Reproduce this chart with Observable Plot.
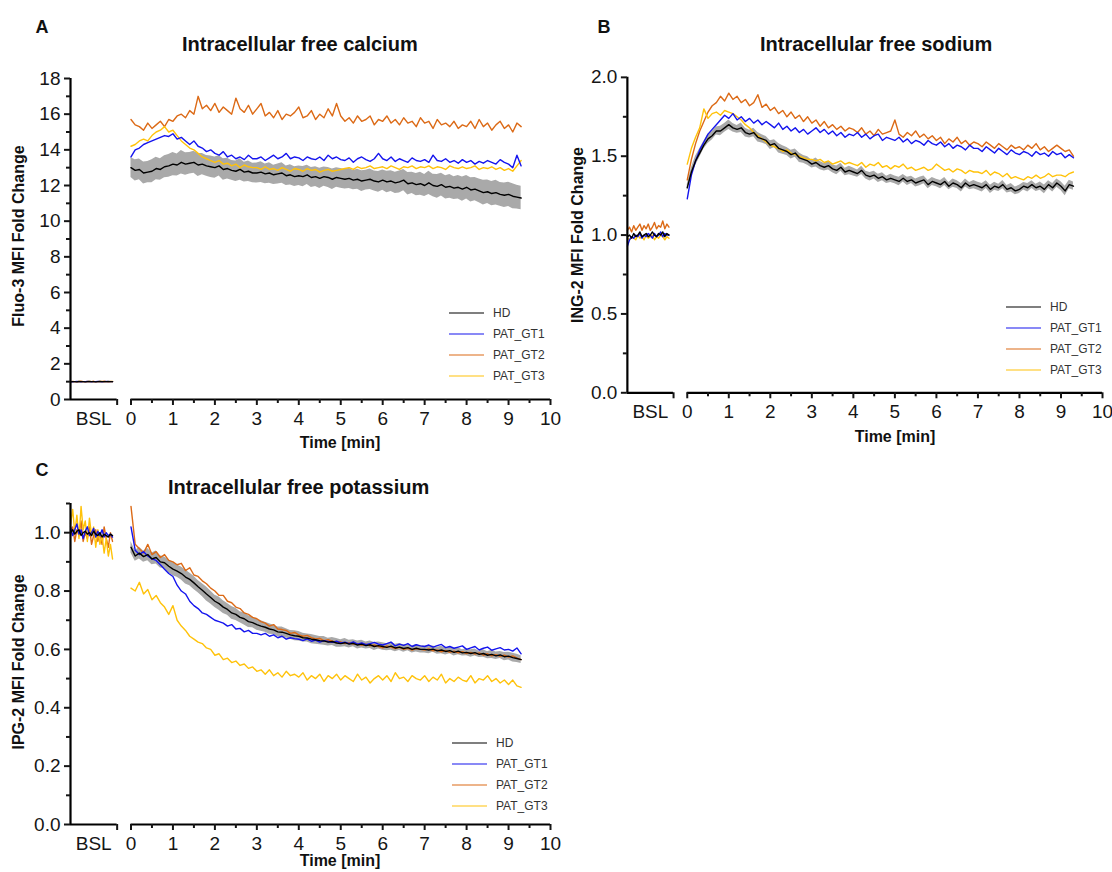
<!DOCTYPE html>
<html><head><meta charset="utf-8">
<script src="https://cdn.jsdelivr.net/npm/d3@7"></script>
<script src="https://cdn.jsdelivr.net/npm/@observablehq/plot@0.6"></script>
<style>
body{margin:0;background:#fff;font-family:"Liberation Sans",Arial,sans-serif;color:#111}
#root{position:relative;width:1112px;height:872px;overflow:hidden}
.abs{position:absolute;white-space:nowrap;line-height:1}
.letter{font-weight:bold;font-size:18px;transform:translate(-50%,-50%)}
.title{font-weight:bold;font-size:20px;transform:translateY(-50%)}
.ylab{font-weight:bold;font-size:16px;transform:translate(-50%,-50%) rotate(-90deg)}
.xlab{font-weight:bold;font-size:16px;transform:translate(-50%,-50%)}
.lg{font-size:12px;color:#333;transform:translateY(-50%)}
.lgline{height:0;border-top:1.8px solid #000;width:35px;transform:translateY(-50%)}
</style>
</head><body><div id="root"></div>
<script>
// ---------- series ----------
const SERIES = ["HD", "PAT_GT1", "PAT_GT2", "PAT_GT3"];
const COLORS = {HD: "#000000", PAT_GT1: "#1414ee", PAT_GT2: "#dc6a16", PAT_GT3: "#ffc20a"};
const TIME_STEP = 0.1;          // min between samples
const BSL_START = -1.44, BSL_STEP = 0.05;
const X_TICKS = [0,1,2,3,4,5,6,7,8,9,10];
const X_MINOR = [0.5,1.5,2.5,3.5,4.5,5.5,6.5,7.5,8.5,9.5];

// ---------- A: calcium ----------
const caHD = [13.0,12.85,12.9,12.7,12.75,12.8,12.95,12.9,13.05,13.1,
13.2,13.15,13.3,13.2,13.25,13.3,13.15,13.2,13.1,13.05,
13.0,13.1,12.9,12.95,12.85,12.8,12.9,12.75,12.8,12.7,
12.7,12.75,12.65,12.7,12.6,12.65,12.7,12.55,12.6,12.5,
12.55,12.5,12.6,12.45,12.5,12.4,12.5,12.45,12.35,12.45,
12.4,12.35,12.4,12.3,12.35,12.25,12.3,12.35,12.25,12.2,
12.3,12.2,12.25,12.15,12.2,12.3,12.1,12.15,12.05,12.1,
12.0,12.15,12.0,11.95,12.05,11.9,11.95,11.85,11.9,11.8,
11.9,11.75,11.8,11.7,11.6,11.65,11.55,11.6,11.5,11.45,
11.5,11.4,11.35,11.3];
const caGT1 = [13.6,14.0,14.1,14.3,14.4,14.5,14.6,14.7,14.8,14.75,
14.9,14.6,14.7,14.5,14.3,14.5,14.2,14.1,13.9,14.0,
13.8,13.7,13.9,13.6,13.7,13.5,13.6,13.45,13.7,13.5,
13.5,13.6,13.4,13.55,13.7,13.5,13.6,13.8,13.5,13.6,
13.55,13.4,13.6,13.5,13.45,13.6,13.4,13.7,13.5,13.6,
13.45,13.4,13.55,13.3,13.5,13.6,13.45,13.35,13.5,13.8,
13.5,13.4,13.6,13.35,13.5,13.4,13.3,13.55,13.4,13.35,
13.45,13.3,13.7,13.4,13.35,13.5,13.3,13.4,13.25,13.45,
13.3,13.4,13.2,13.35,13.25,13.4,13.3,13.2,13.45,13.3,
13.2,13.0,13.7,13.1];
const caGT2 = [15.7,15.4,15.3,15.1,15.5,15.2,15.4,15.6,15.3,15.7,
15.6,15.9,16.0,15.8,16.2,16.0,17.0,16.3,16.5,16.2,
16.6,16.1,16.4,16.2,16.0,16.9,16.3,16.1,16.5,16.0,
16.3,16.6,15.9,16.1,15.8,16.2,15.7,16.0,15.9,16.1,
16.4,15.8,15.9,16.2,15.7,16.0,15.8,16.3,15.9,16.6,
15.9,15.6,15.8,15.5,15.9,15.6,15.7,15.9,15.4,15.7,
15.6,15.9,15.5,15.7,15.4,15.8,15.5,15.6,15.3,15.8,
15.5,15.6,15.2,15.7,15.4,15.5,15.3,15.6,15.2,15.4,
15.3,15.6,15.2,15.7,15.3,15.5,15.1,15.4,15.6,15.2,
15.4,15.0,15.5,15.3];
const caGT3 = [14.2,14.3,14.5,14.6,14.5,14.8,15.0,15.1,15.3,15.0,
15.1,14.8,14.5,14.3,14.1,14.0,13.8,13.6,13.5,13.4,
13.3,13.4,13.2,13.25,13.1,13.2,13.0,13.15,13.05,13.0,
13.0,12.9,13.05,12.9,12.95,12.85,13.0,12.9,12.8,12.95,
12.9,12.8,12.95,12.85,12.9,12.75,12.85,12.9,12.8,12.85,
12.9,12.95,13.0,12.9,13.05,12.95,13.0,13.1,12.95,13.0,
13.05,12.95,13.1,13.0,12.9,13.05,13.0,13.1,12.95,13.05,
13.0,13.1,12.95,13.05,13.0,12.9,13.1,13.0,12.95,13.05,
12.95,13.0,13.1,12.9,13.0,12.95,13.05,12.9,13.0,12.85,
12.95,12.8,13.1,13.4];
const caSEM = [0.55,0.6,0.58,0.62,0.6,0.65,0.63,0.6,0.62,0.64,
0.65,0.62,0.66,0.63,0.6,0.62,0.64,0.6,0.58,0.6,
0.6,0.57,0.6,0.58,0.55,0.58,0.6,0.56,0.58,0.55,
0.56,0.58,0.55,0.57,0.54,0.56,0.58,0.55,0.57,0.55,
0.55,0.57,0.54,0.56,0.55,0.57,0.54,0.56,0.58,0.55,
0.56,0.55,0.57,0.54,0.56,0.58,0.55,0.57,0.56,0.58,
0.57,0.6,0.58,0.6,0.62,0.6,0.63,0.6,0.62,0.64,
0.62,0.65,0.63,0.66,0.64,0.65,0.67,0.64,0.66,0.68,
0.66,0.68,0.65,0.67,0.69,0.66,0.68,0.7,0.67,0.69,
0.68,0.7,0.67,0.66];
const caBslHD  = [0.99,1.0,1.0,0.99,1.01,1.0,1.0,0.99,1.0,1.01,1.0,1.0,0.99,1.0,1.01,1.0,1.0,1.0,1.01,1.0,1.0];
const caBslGT1 = [1.0,0.99,1.0,1.01,1.0,0.99,1.0,1.0,1.01,1.0,0.99,1.0,1.0,1.01,1.0,0.99,1.0,1.01,1.0,1.0,1.0];
const caBslGT2 = [1.0,1.01,1.0,0.99,1.0,1.02,1.0,0.99,1.01,1.0,1.0,1.02,0.99,1.0,1.01,1.0,1.02,1.0,0.99,1.01,1.0];
const caBslGT3 = [1.0,1.0,0.99,1.0,1.01,1.0,0.99,1.0,1.0,1.01,1.0,0.99,1.0,1.0,1.0,1.01,0.99,1.0,1.0,1.0,1.01];

// ---------- B: sodium ----------
const naHD = [1.30,1.40,1.47,1.52,1.57,1.61,1.63,1.66,1.66,1.68,
1.70,1.68,1.67,1.68,1.65,1.64,1.65,1.62,1.61,1.60,
1.57,1.58,1.55,1.54,1.53,1.51,1.52,1.49,1.48,1.47,
1.45,1.46,1.44,1.43,1.44,1.42,1.41,1.43,1.40,1.41,
1.40,1.39,1.41,1.38,1.37,1.38,1.36,1.37,1.35,1.36,
1.35,1.34,1.36,1.34,1.35,1.33,1.34,1.35,1.32,1.34,
1.33,1.32,1.34,1.31,1.33,1.32,1.30,1.33,1.31,1.32,
1.31,1.30,1.32,1.29,1.31,1.30,1.32,1.29,1.30,1.28,
1.29,1.31,1.30,1.32,1.30,1.31,1.29,1.32,1.30,1.33,
1.31,1.28,1.32,1.31];
const naGT1 = [1.23,1.38,1.47,1.54,1.59,1.64,1.67,1.70,1.73,1.76,
1.74,1.77,1.73,1.75,1.72,1.74,1.71,1.73,1.70,1.72,
1.70,1.68,1.71,1.67,1.69,1.66,1.68,1.65,1.67,1.64,
1.66,1.68,1.65,1.67,1.64,1.66,1.63,1.65,1.62,1.64,
1.63,1.65,1.62,1.64,1.61,1.63,1.64,1.60,1.62,1.61,
1.60,1.62,1.59,1.61,1.58,1.60,1.59,1.57,1.60,1.58,
1.57,1.59,1.56,1.58,1.55,1.57,1.56,1.54,1.57,1.55,
1.55,1.53,1.56,1.54,1.52,1.55,1.53,1.51,1.54,1.52,
1.51,1.53,1.52,1.50,1.53,1.51,1.52,1.50,1.53,1.51,
1.52,1.49,1.51,1.49];
const naGT2 = [1.35,1.48,1.58,1.66,1.72,1.78,1.82,1.84,1.88,1.85,
1.90,1.86,1.88,1.84,1.86,1.82,1.84,1.89,1.81,1.83,
1.79,1.81,1.77,1.79,1.75,1.78,1.74,1.76,1.72,1.75,
1.71,1.73,1.69,1.72,1.68,1.70,1.67,1.69,1.66,1.68,
1.67,1.65,1.68,1.64,1.66,1.63,1.67,1.64,1.65,1.66,
1.73,1.64,1.62,1.65,1.63,1.66,1.62,1.64,1.61,1.63,
1.60,1.62,1.58,1.61,1.59,1.62,1.58,1.60,1.57,1.59,
1.58,1.56,1.59,1.57,1.55,1.58,1.56,1.54,1.57,1.55,
1.56,1.54,1.57,1.55,1.58,1.54,1.56,1.53,1.55,1.57,
1.55,1.53,1.54,1.50];
const naGT3 = [1.45,1.55,1.62,1.68,1.80,1.74,1.77,1.78,1.76,1.79,
1.78,1.77,1.75,1.73,1.70,1.68,1.65,1.63,1.61,1.59,
1.57,1.56,1.55,1.53,1.54,1.52,1.51,1.50,1.49,1.48,
1.48,1.47,1.48,1.46,1.47,1.45,1.46,1.47,1.45,1.46,
1.45,1.44,1.46,1.43,1.45,1.44,1.46,1.43,1.44,1.42,
1.44,1.43,1.45,1.42,1.43,1.41,1.42,1.43,1.41,1.42,
1.45,1.43,1.41,1.42,1.40,1.42,1.41,1.39,1.41,1.40,
1.40,1.39,1.41,1.38,1.40,1.39,1.37,1.39,1.36,1.37,
1.36,1.35,1.37,1.36,1.38,1.36,1.37,1.39,1.37,1.38,
1.38,1.37,1.39,1.40];
const naSEM = [0.02,0.025,0.03,0.028,0.025,0.03,0.027,0.025,0.03,0.028,
0.03,0.027,0.025,0.03,0.028,0.025,0.027,0.03,0.026,0.025,
0.028,0.025,0.03,0.027,0.025,0.028,0.026,0.03,0.025,0.027,
0.025,0.028,0.026,0.024,0.027,0.025,0.028,0.026,0.024,0.027,
0.025,0.023,0.026,0.025,0.027,0.024,0.026,0.025,0.023,0.026,
0.025,0.027,0.024,0.026,0.023,0.025,0.027,0.024,0.026,0.025,
0.024,0.026,0.025,0.023,0.026,0.024,0.027,0.025,0.023,0.026,
0.025,0.027,0.024,0.026,0.025,0.023,0.026,0.024,0.027,0.025,
0.026,0.024,0.027,0.025,0.023,0.026,0.028,0.025,0.027,0.026,
0.028,0.03,0.027,0.026];
const naBslHD  = [0.99,1.0,0.98,1.01,0.99,1.0,1.02,0.99,1.0,1.01,0.99,1.0,1.02,1.0,0.99,1.01,1.0,1.02,0.99,1.01,1.0];
const naBslGT1 = [0.93,0.97,0.99,0.98,1.0,0.99,1.01,0.98,1.0,0.99,1.01,1.0,0.98,1.01,0.99,1.0,1.02,0.99,1.01,1.0,1.0];
const naBslGT2 = [1.03,1.05,1.02,1.06,1.03,1.05,1.07,1.03,1.06,1.04,1.07,1.03,1.05,1.08,1.04,1.06,1.05,1.09,1.04,1.07,1.05];
const naBslGT3 = [0.98,0.97,0.99,0.98,0.97,1.0,0.98,0.99,0.97,1.0,0.98,0.99,1.0,0.97,0.99,0.98,1.0,0.99,0.97,0.99,0.98];

// ---------- C: potassium ----------
const kHD = [0.95,0.92,0.93,0.918,0.925,0.91,0.915,0.90,0.897,0.885,
0.875,0.868,0.86,0.848,0.84,0.828,0.815,0.803,0.79,0.778,
0.765,0.757,0.745,0.737,0.725,0.72,0.71,0.705,0.695,0.692,
0.685,0.68,0.676,0.67,0.667,0.66,0.659,0.655,0.65,0.647,
0.645,0.64,0.639,0.635,0.633,0.63,0.629,0.625,0.627,0.622,
0.62,0.623,0.618,0.621,0.615,0.618,0.613,0.616,0.61,0.613,
0.61,0.607,0.611,0.605,0.608,0.603,0.606,0.60,0.604,0.60,
0.60,0.598,0.601,0.595,0.598,0.593,0.596,0.59,0.594,0.588,
0.59,0.586,0.589,0.583,0.586,0.58,0.583,0.578,0.581,0.575,
0.577,0.572,0.569,0.565];
const kGT1 = [1.02,0.94,0.925,0.935,0.92,0.91,0.905,0.89,0.875,0.86,
0.85,0.82,0.80,0.79,0.765,0.75,0.74,0.725,0.72,0.71,
0.70,0.695,0.69,0.68,0.685,0.67,0.672,0.66,0.665,0.655,
0.655,0.65,0.655,0.645,0.65,0.64,0.645,0.635,0.64,0.637,
0.635,0.63,0.636,0.628,0.632,0.625,0.63,0.627,0.624,0.628,
0.622,0.625,0.62,0.626,0.618,0.622,0.616,0.62,0.624,0.618,
0.615,0.62,0.625,0.612,0.618,0.614,0.62,0.61,0.616,0.612,
0.61,0.615,0.608,0.613,0.617,0.606,0.61,0.604,0.608,0.612,
0.60,0.605,0.61,0.598,0.604,0.608,0.597,0.602,0.606,0.598,
0.60,0.594,0.605,0.585];
const kGT2 = [1.09,0.96,0.945,0.93,0.96,0.925,0.935,0.915,0.925,0.905,
0.90,0.89,0.895,0.87,0.88,0.855,0.85,0.835,0.825,0.81,
0.80,0.785,0.785,0.765,0.76,0.745,0.74,0.725,0.72,0.71,
0.705,0.695,0.69,0.68,0.685,0.67,0.668,0.665,0.655,0.658,
0.65,0.645,0.648,0.64,0.636,0.638,0.63,0.633,0.628,0.625,
0.626,0.62,0.623,0.618,0.62,0.614,0.618,0.612,0.615,0.61,
0.605,0.612,0.608,0.603,0.607,0.60,0.604,0.598,0.603,0.60,
0.598,0.602,0.595,0.598,0.592,0.596,0.59,0.594,0.588,0.592,
0.586,0.59,0.584,0.588,0.58,0.585,0.578,0.582,0.576,0.58,
0.574,0.578,0.57,0.565];
const kGT3 = [0.81,0.80,0.83,0.79,0.805,0.77,0.785,0.76,0.745,0.72,
0.75,0.70,0.68,0.665,0.645,0.635,0.625,0.62,0.605,0.60,
0.58,0.585,0.565,0.57,0.555,0.56,0.545,0.55,0.535,0.54,
0.525,0.53,0.515,0.53,0.51,0.52,0.505,0.525,0.51,0.515,
0.505,0.52,0.495,0.51,0.50,0.515,0.49,0.51,0.50,0.515,
0.495,0.51,0.50,0.49,0.515,0.495,0.505,0.485,0.50,0.51,
0.495,0.51,0.49,0.52,0.50,0.505,0.49,0.51,0.50,0.495,
0.51,0.49,0.505,0.495,0.515,0.485,0.50,0.49,0.505,0.495,
0.49,0.51,0.485,0.50,0.495,0.51,0.49,0.50,0.485,0.495,
0.48,0.495,0.475,0.47];
const kSEM = [0.02,0.018,0.02,0.019,0.021,0.02,0.022,0.021,0.02,0.022,
0.023,0.021,0.022,0.024,0.022,0.023,0.021,0.022,0.024,0.022,
0.021,0.023,0.022,0.02,0.022,0.021,0.019,0.021,0.02,0.018,
0.019,0.018,0.017,0.018,0.016,0.017,0.018,0.016,0.015,0.017,
0.016,0.015,0.014,0.016,0.015,0.014,0.015,0.013,0.014,0.015,
0.013,0.014,0.013,0.012,0.014,0.013,0.012,0.013,0.014,0.012,
0.013,0.012,0.014,0.013,0.012,0.013,0.011,0.012,0.013,0.012,
0.012,0.013,0.011,0.012,0.013,0.012,0.011,0.013,0.012,0.011,
0.012,0.013,0.012,0.011,0.013,0.012,0.014,0.013,0.012,0.014,
0.013,0.015,0.014,0.013];
const kBslHD  = [1.0,1.01,0.995,1.005,1.01,0.99,1.0,1.005,0.995,1.0,0.99,1.005,0.995,0.99,1.0,0.985,0.995,0.99,0.985,0.995,0.99];
const kBslGT1 = [1.02,0.99,1.01,1.03,0.995,1.01,0.98,1.005,1.02,0.99,1.0,1.015,0.985,1.005,0.99,1.01,0.985,1.0,0.99,0.995,0.985];
const kBslGT2 = [0.99,1.02,0.97,1.01,0.99,1.04,0.97,1.0,0.98,1.02,0.96,0.99,1.01,0.97,1.0,0.96,1.02,0.98,0.95,1.0,0.97];
const kBslGT3 = [1.03,1.08,1.0,1.06,0.98,1.09,1.01,1.04,0.97,1.05,0.99,1.02,0.95,1.01,0.96,0.99,0.93,0.98,0.92,0.96,0.91];

// ---------- axis definitions ----------
const X_DOMAIN = [-1.442, 10];
const BSL_END = -0.33;
const BSL_MID = -0.89;

const root = document.getElementById("root");

function place(el, left, top) {
  const w = document.createElement("div");
  w.style.position = "absolute"; w.style.left = left + "px"; w.style.top = top + "px";
  w.appendChild(el); root.appendChild(w);
}
function text(cls, str, x, y) {
  const d = document.createElement("div");
  d.className = "abs " + cls; d.textContent = str;
  d.style.left = x + "px"; d.style.top = y + "px";
  root.appendChild(d);
}
function legend(x, y0, dy) {
  SERIES.forEach((s, i) => {
    const l = document.createElement("div");
    l.className = "abs lgline"; l.style.left = x + "px"; l.style.top = (y0 + i * dy) + "px";
    l.style.borderTopColor = COLORS[s];
    root.appendChild(l);
    text("lg", s, x + 44, y0 + i * dy);
  });
}

function makePanel(cfg) {
  const rows = [];
  SERIES.forEach((k, j) => {
    cfg.main[j].forEach((y, i) => rows.push({t: i * TIME_STEP, y, k, seg: "main"}));
    cfg.bsl[j].forEach((y, i) => rows.push({t: BSL_START + i * BSL_STEP, y, k, seg: "bsl"}));
  });
  const band = cfg.main[0].map((y, i) => ({t: i * TIME_STEP, lo: y - cfg.sem[i], hi: y + cfg.sem[i]}));
  const order = ["PAT_GT2", "PAT_GT3", "PAT_GT1", "HD"];
  const y0 = cfg.yDomain[0], y1 = cfg.yDomain[1];
  return Plot.plot({
    width: cfg.width, height: cfg.height,
    marginLeft: 70, marginRight: cfg.mr, marginTop: cfg.mt, marginBottom: cfg.mb,
    x: {domain: X_DOMAIN, label: null},
    y: {domain: cfg.yDomain, label: null},
    style: {fontFamily: "Liberation Sans, Arial, sans-serif", fontSize: "19px", color: "#151515", background: "transparent", overflow: "visible"},
    marks: [
      Plot.areaY(band, {x: "t", y1: "lo", y2: "hi", fill: "#a9a9a9"}),
      ...order.map(k => Plot.line(rows.filter(r => r.k === k), {x: "t", y: "y", z: "seg", stroke: COLORS[k], strokeWidth: 1.4})),
      Plot.ruleX([X_DOMAIN[0]], {y1: y0, y2: y1, stroke: "#000", strokeWidth: 2.2}),
      Plot.ruleY([y0], {x1: X_DOMAIN[0], x2: BSL_END, stroke: "#000", strokeWidth: 2.2}),
      Plot.ruleY([y0], {x1: X_TICKS[0], x2: X_TICKS[X_TICKS.length - 1], stroke: "#000", strokeWidth: 2.2}),
      Plot.axisY({ticks: cfg.yTicks, tickSize: 6, tickPadding: 4, tickFormat: cfg.fmt, strokeWidth: 2, label: null}),
      Plot.axisY({ticks: cfg.yMinor, tickSize: 4, tickFormat: () => "", strokeWidth: 2, label: null}),
      Plot.axisX({ticks: X_TICKS, tickSize: 6, tickPadding: 6, tickFormat: d => String(d), strokeWidth: 2, label: null}),
      Plot.axisX({ticks: X_MINOR, tickSize: 4, tickFormat: () => "", strokeWidth: 2, label: null}),
      Plot.axisX({ticks: [BSL_END], tickSize: 6, tickFormat: () => "", strokeWidth: 2, label: null}),
      Plot.axisX({ticks: [BSL_MID], tickSize: 0, tickPadding: 12, tickFormat: () => "BSL", label: null})
    ]
  });
}

// Panel A
place(makePanel({
  width: 560, height: 440, mr: 10, mt: 78, mb: 41,
  yDomain: [0, 18], yTicks: [0,2,4,6,8,10,12,14,16,18], yMinor: [1,3,5,7,9,11,13,15,17],
  fmt: d3.format("d"),
  main: [caHD, caGT1, caGT2, caGT3], bsl: [caBslHD, caBslGT1, caBslGT2, caBslGT3], sem: caSEM
}), 0, 0);

// Panel B
place(makePanel({
  width: 556, height: 440, mr: 10, mt: 77, mb: 47,
  yDomain: [0, 2], yTicks: [0,0.5,1,1.5,2], yMinor: [0.25,0.75,1.25,1.75],
  fmt: d3.format(".1f"),
  main: [naHD, naGT1, naGT2, naGT3], bsl: [naBslHD, naBslGT1, naBslGT2, naBslGT3], sem: naSEM
}), 557, 0);

// Panel C
place(makePanel({
  width: 560, height: 432, mr: 10, mt: 63, mb: 48,
  yDomain: [0, 1.1], yTicks: [0,0.2,0.4,0.6,0.8,1.0], yMinor: [0.1,0.3,0.5,0.7,0.9,1.1],
  fmt: d3.format(".1f"),
  main: [kHD, kGT1, kGT2, kGT3], bsl: [kBslHD, kBslGT1, kBslGT2, kBslGT3], sem: kSEM
}), 0, 440);

// Text
text("letter", "A", 42, 27);
text("letter", "B", 604, 27);
text("letter", "C", 42, 470);
text("title", "Intracellular free calcium", 182, 44);
text("title", "Intracellular free sodium", 760, 44);
text("title", "Intracellular free potassium", 168, 487);
text("ylab", "Fluo-3 MFI Fold Change", 19, 236);
text("ylab", "ING-2 MFI Fold Change", 578, 235);
text("ylab", "IPG-2 MFI Fold Change", 19, 662);
text("xlab", "Time [min]", 340, 443);
text("xlab", "Time [min]", 895, 437);
text("xlab", "Time [min]", 340, 861);
legend(449, 313, 21);
legend(1006, 307, 21);
legend(452, 743, 21);
</script>
</body></html>
